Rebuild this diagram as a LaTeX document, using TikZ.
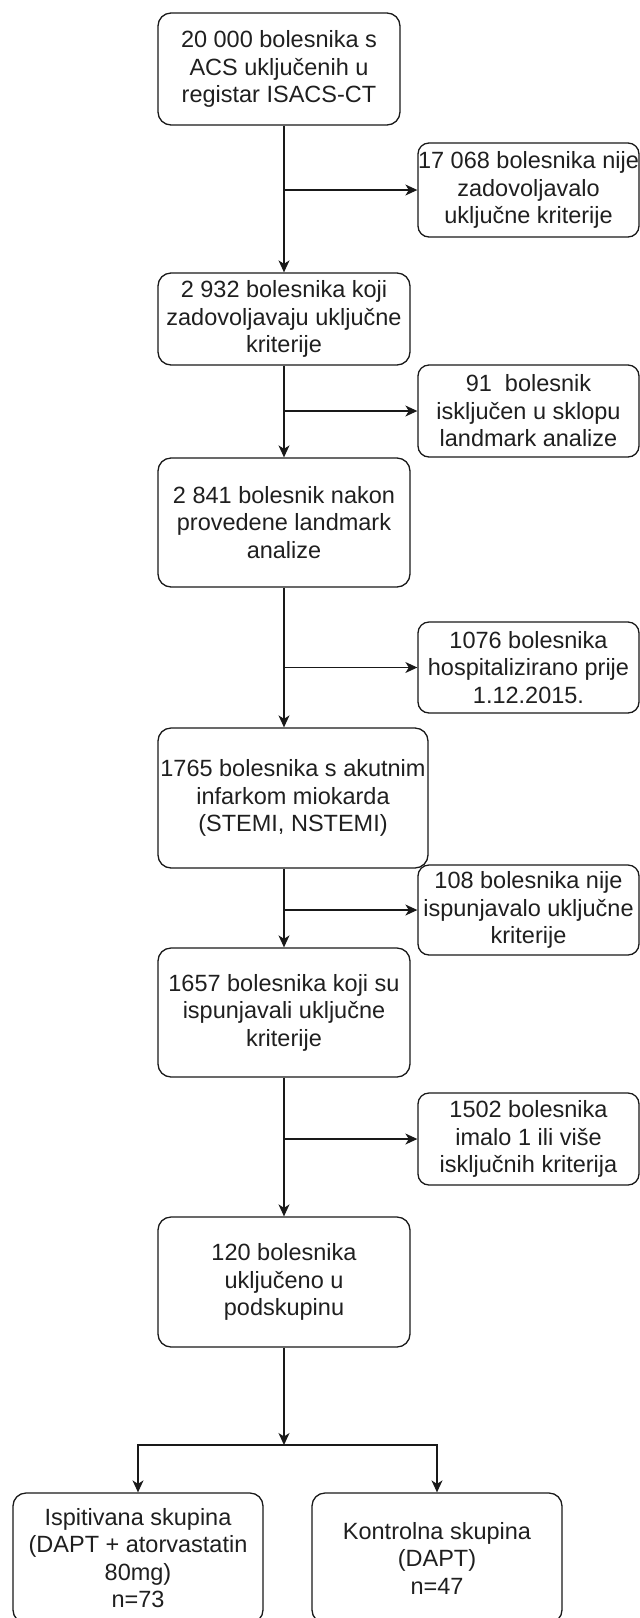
\documentclass[tikz,border=0pt]{standalone}
\usepackage{fontspec}
\setmainfont{Liberation Sans}
\usetikzlibrary{arrows.meta}
\begin{document}
\begin{tikzpicture}[x=1pt,y=-1pt,
  box/.style={draw=black!90, line width=1.3pt, rounded corners=13pt, align=center, inner sep=0pt,
    font=\fontsize{23.5}{27.5}\selectfont, text=black!88},
  side/.style={box, rounded corners=11pt, minimum width=221pt},
  arr/.style={draw=black!90, line width=1.3pt, -{Stealth[length=12pt,width=11pt,inset=3.5pt]}}]
\useasboundingbox (0,0) rectangle (640,1618);
\clip (0,0) rectangle (640,1618);

\node[box, minimum width=242pt, minimum height=112pt] (b1) at (279,69)
  {20 000 bolesnika s\\ACS uključenih u\\registar ISACS-CT};
\node[side, minimum height=94pt] (s1) at (528.5,190)
  {17 068 bolesnika nije\\zadovoljavalo\\uključne kriterije};
\node[box, minimum width=252pt, minimum height=92pt] (b2) at (284,319)
  {2 932 bolesnika koji\\zadovoljavaju uključne\\kriterije};
\node[side, minimum height=92pt] (s2) at (528.5,411)
  {91\ \ bolesnik\\isključen u sklopu\\landmark analize};
\node[box, minimum width=252pt, minimum height=129pt] (b3) at (284,522.5)
  {2 841 bolesnik nakon\\provedene landmark\\analize};
\node[side, minimum height=91pt] (s3) at (528.5,667.5)
  {1076 bolesnika\\hospitalizirano prije\\1.12.2015.};
\node[box, minimum width=270pt, minimum height=140pt] (b4) at (293,798)
  {1765 bolesnika s akutnim\\infarkom miokarda\\(STEMI, NSTEMI)};
\node[side, minimum height=90pt] (s4) at (528.5,910)
  {108 bolesnika nije\\ispunjavalo uključne\\kriterije};
\node[box, minimum width=252pt, minimum height=129pt] (b5) at (284,1012.5)
  {1657 bolesnika koji su\\ispunjavali uključne\\kriterije};
\node[side, minimum height=92pt] (s5) at (528.5,1139)
  {1502 bolesnika\\imalo 1 ili više\\isključnih kriterija};
\node[box, minimum width=252pt, minimum height=130pt] (b6) at (284,1282)
  {120 bolesnika\\uključeno u\\podskupinu};
\node[box, minimum width=250pt, minimum height=130pt] (b7) at (138,1558)
  {Ispitivana skupina\\(DAPT + atorvastatin\\80mg)\\n=73};
\node[box, minimum width=250pt, minimum height=130pt] (b8) at (437,1558)
  {Kontrolna skupina\\(DAPT)\\n=47};
\coordinate (j) at (284,1445);

\draw[arr] (b2.north |- b1.south) -- (b2.north);
\draw[arr] (s1.west -| b2.north) -- (s1.west);
\draw[arr] (b2.south) -- (b3.north);
\draw[arr] (s2.west -| b2.south) -- (s2.west);
\draw[arr] (b3.south) -- (b3.south |- b4.north);
\draw[arr] (s3.west -| b3.south) -- (s3.west);
\draw[arr] (b5.north |- b4.south) -- (b5.north);
\draw[arr] (s4.west -| b5.north) -- (s4.west);
\draw[arr] (b5.south) -- (b6.north);
\draw[arr] (s5.west -| b5.south) -- (s5.west);
\draw[arr] (b6.south) -- (j);
\draw[arr] (j) -| (b7.north);
\draw[arr] (j) -| (b8.north);
\end{tikzpicture}
\end{document}
